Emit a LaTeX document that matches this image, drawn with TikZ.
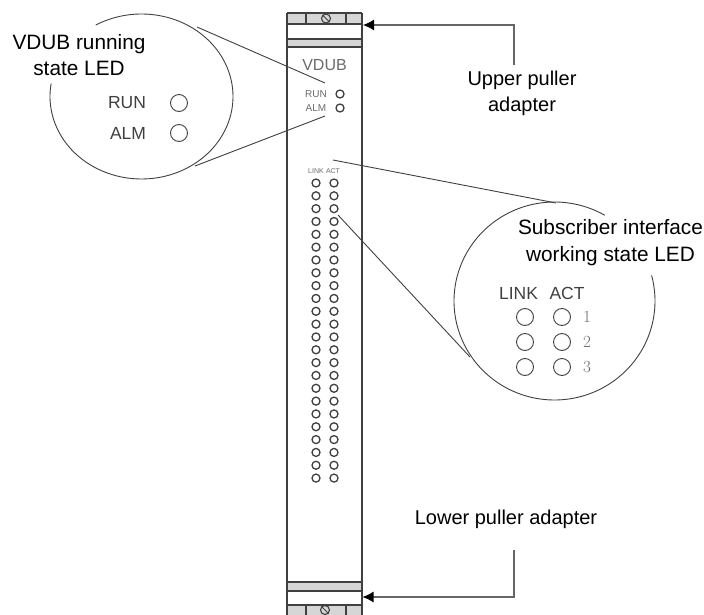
\documentclass[tikz,border=0pt]{standalone}
\usepackage{fontspec}
\setmainfont{Liberation Sans}
\newfontfamily\numfont{Latin Modern Roman}
\usetikzlibrary{arrows.meta}
\definecolor{band}{gray}{0.84}
\definecolor{ink}{gray}{0.25}
\definecolor{inkl}{gray}{0.42}
\tikzset{
  callout/.style={font=\fontsize{20}{26}\selectfont,align=center,text=black,inner sep=0pt},
  calloutw/.style={font=\fontsize{20.8}{26.5}\selectfont,align=center,text=black,inner sep=0pt},
  panel/.style={draw=ink,line width=1.2pt},
  bar/.style={draw=ink,line width=1.5pt},
  led/.style={circle,draw=ink,line width=1.3pt,minimum size=8pt,inner sep=0pt},
  screw/.style={circle,draw=ink,line width=1.1pt,minimum size=9pt,inner sep=0pt},
  bigled/.style={circle,draw=ink,line width=.9pt,minimum size=17pt,inner sep=0pt},
  smalltxt/.style={font=\fontsize{10}{12}\selectfont,text=inkl,inner sep=0pt},
  tinytxt/.style={font=\fontsize{7}{8}\selectfont,text=inkl,inner sep=0pt},
  biglabel/.style={font=\fontsize{17.5}{20}\selectfont,text=ink,inner sep=0pt},
  num/.style={font=\numfont\fontsize{17}{20}\selectfont,text=inkl,inner sep=0pt},
  leader/.style={draw=ink,line width=.9pt},
  pull/.style={draw=ink!80,line width=1.1pt,-{Latex[length=11pt,width=11pt,black]}}
}
\begin{document}
\begin{tikzpicture}[x=1pt,y=-1pt]
\useasboundingbox (0,0) rectangle (704,615);
% panel
\fill[band] (287,13) rectangle (362,24);
\fill[band] (287,39) rectangle (362,47);
\fill[band] (287,582) rectangle (362,591);
\fill[band] (287,605) rectangle (362,615);
\draw[panel] (287,13) -- (287,615);
\draw[panel] (362,13) -- (362,615);
\draw[panel] (287,13) -- (362,13);
\draw[panel] (287,24) -- (362,24);
\draw[panel] (287,605) -- (362,605);
\draw[bar] (287,39) -- (362,39);
\draw[bar] (287,47) -- (362,47);
\draw[bar] (287,582) -- (362,582);
\draw[bar] (287,591) -- (362,591);
\foreach \x in {306,346}{
  \draw[panel] (\x,13) -- (\x,24);
  \draw[panel] (\x,605) -- (\x,615);
}
\node[screw] (screwT) at (326,18.5) {};
\node[screw] (screwB) at (325,610) {};
\draw[ink,line width=.9pt] (screwT.north west) -- (screwT.south east);
\draw[ink,line width=.9pt] (screwB.north west) -- (screwB.south east);
\node[font=\fontsize{16}{18}\selectfont,text=inkl,inner sep=0pt] (title) at (324.5,65) {VDUB};
\node[smalltxt] (runS) at (316,94) {RUN};
\node[smalltxt] (almS) at (316,108) {ALM};
\node[led] (ledRun) at (340,94) {};
\node[led] (ledAlm) at (340,108) {};
\node[tinytxt] (linkS) at (316,171) {LINK};
\node[tinytxt] (actS) at (333,171) {ACT};
\foreach \i in {0,...,23}{
  \node[led] (a\i) at (316,183+12.83*\i) {};
  \node[led] (b\i) at (334,183+12.83*\i) {};
}
% left callout
\draw[leader,smooth] plot[domain=240:549,samples=120,variable=\t] ({141.5+91.5*cos(\t)},{96.5+82.5*sin(\t)});
\coordinate (lc1) at (325,83);
\coordinate (lc2) at (325,116);
\coordinate (lt1) at (197,27);
\coordinate (lt2) at (195,166);
\draw[leader] (lt1) -- (lc1);
\draw[leader] (lt2) -- (lc2);
\node[calloutw] (vdubcap) at (79,55) {VDUB running\\state LED};
\node[biglabel] (runB) at (127,103) {RUN};
\node[biglabel] (almB) at (128,133) {ALM};
\node[bigled] (runL) at (179,103) {};
\node[bigled] (almL) at (179,133) {};
% right callout
\draw[leader,smooth] plot[domain=-60:-375,samples=120,variable=\t] ({554.5+100.5*cos(\t)},{301+99*sin(\t)});
\coordinate (rc1) at (333,160);
\coordinate (rc2) at (338,215);
\coordinate (rt1) at (556,203);
\coordinate (rt2) at (470,357);
\draw[leader] (rc1) -- (rt1);
\draw[leader] (rc2) -- (rt2);
\node[calloutw] (subcap) at (610.5,242.5) {Subscriber interface\\working state LED};
\node[biglabel] (linkB) at (518.5,293) {LINK};
\node[biglabel] (actB) at (567,293) {ACT};
\foreach \i/\y in {1/317,2/342,3/367}{
  \node[bigled] (l\i) at (525,\y) {};
  \node[bigled] (r\i) at (562,\y) {};
  \node[num] (n\i) at (587,\y) {\i};
}
% pullers
\node[callout] (upcap) at (522,93) {Upper puller\\adapter};
\node[callout] (lowcap) at (506,519) {Lower puller adapter};
\coordinate (up0) at (514,65);
\coordinate (up1) at (514,25);
\coordinate (upT) at (363,25);
\coordinate (lo0) at (514,550);
\coordinate (lo1) at (514,597);
\coordinate (loT) at (362.5,597);
\draw[pull] (up0) -- (up1) -- (upT);
\draw[pull] (lo0) -- (lo1) -- (loT);
\end{tikzpicture}
\end{document}
